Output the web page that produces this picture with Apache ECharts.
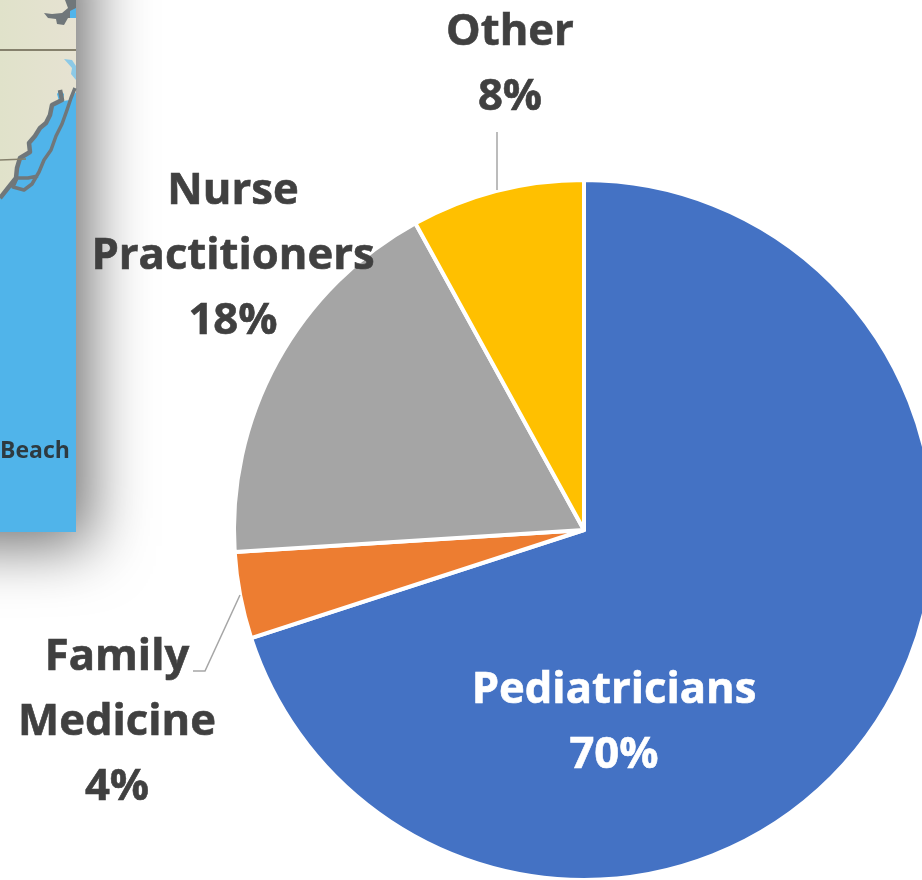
<!DOCTYPE html>
<html>
<head>
<meta charset="utf-8">
<style>
  html, body { margin: 0; padding: 0; background: #fff; overflow: hidden; }
  #pie { width: 922px; height: 880px; }
</style>
</head>
<body>
<div id="pie"></div>
<script src="https://cdn.jsdelivr.net/npm/echarts@6/dist/echarts.min.js"></script>
<script>
const categories = ['Pediatricians', 'Family\nMedicine', 'Nurse\nPractitioners', 'Other'];
const shares = [70, 4, 18, 8];
const colors = ['#4472C4', '#ED7D31', '#A5A5A5', '#FFC000'];

// where each label's block sits, same order as categories
const labelSpots = [
  { x: 614, y: 723 },
  { x: 117, y: 723 },
  { x: 233, y: 257 },
  { x: 510, y: 65 }
];
// leader line elbows, the pie itself only gives us the start point
const leaderLines = [
  null,
  [[240, 595], [205, 671], [193, 671]],
  null,
  [[497, 190], [497, 132]]
];

const chart = echarts.init(document.getElementById('pie'));

const grey = '#70777A';
const water = '#50B4EA';

// the cropped map behind the chart
const mapPart = [
  {
    type: 'rect',
    z: 0,
    shape: { x: -80, y: -80, width: 156, height: 612 },
    style: {
      fill: water,
      shadowBlur: 60,
      shadowColor: 'rgba(0,0,0,0.56)',
      shadowOffsetX: 14,
      shadowOffsetY: 14
    }
  },
  {
    type: 'polygon',
    z: 1,
    shape: {
      points: [[0, 0], [76, 0], [76, 92], [70, 100], [63, 101], [64, 94], [60, 90], [57, 94], [59, 101], [52, 105],
        [50, 115], [46, 123], [40, 128], [35, 136], [29, 143], [30, 152], [20, 158], [17, 168], [16, 178],
        [8, 188], [0, 198]]
    },
    style: {
      fill: { type: 'linear', x: 0, y: 0, x2: 1, y2: 0, colorStops: [
        { offset: 0, color: '#E0E2CA' }, { offset: 1, color: '#E6E2D2' }
      ] }
    }
  },
  {
    // mainland shore
    type: 'polyline',
    z: 2,
    shape: {
      points: [[60, 90], [62, 100], [52, 105], [50, 115], [46, 123], [40, 128], [35, 136], [29, 143], [30, 152],
        [20, 158], [17, 168], [16, 178], [8, 188], [0, 198]]
    },
    style: { stroke: grey, lineWidth: 4.5, fill: null, lineJoin: 'round' }
  },
  {
    // barrier islands
    type: 'polyline',
    z: 2,
    shape: {
      points: [[75, 88], [71, 98], [67, 110], [62, 124], [56, 136], [51, 150], [44, 160], [39, 172], [32, 184],
        [24, 190], [13, 187], [17, 178], [28, 178], [38, 176]]
    },
    style: { stroke: grey, lineWidth: 3.5, fill: null, lineJoin: 'round' }
  },
  {
    type: 'polyline',
    z: 2,
    shape: { points: [[0, 50], [76, 50]] },
    style: { stroke: '#85806C', lineWidth: 2, fill: null }
  },
  {
    type: 'polyline',
    z: 2,
    shape: { points: [[0, 160], [26, 159]] },
    style: { stroke: '#85806C', lineWidth: 1.5, fill: null }
  },
  {
    // bay at the top
    type: 'polygon',
    z: 2,
    shape: {
      points: [[44, 13], [52, 14], [62, 13], [68, 8], [65, 0], [76, 0], [76, 18], [68, 18], [64, 25], [57, 24],
        [56, 19], [48, 18]]
    },
    style: { fill: grey }
  },
  {
    type: 'polygon',
    z: 3,
    shape: { points: [[70, 11], [76, 8], [76, 18], [70, 18]] },
    style: { fill: water }
  },
  {
    // small inlet right of the border line
    type: 'polygon',
    z: 2,
    shape: { points: [[64, 59], [72, 60], [76, 66], [76, 80], [71, 74], [72, 68]] },
    style: { fill: '#8CC9E6' }
  },
  {
    type: 'text',
    z: 3,
    style: {
      x: 0,
      y: 451,
      text: 'Beach',
      fill: '#2E3A40',
      font: 'bold 23px "Open Sans"',
      textVerticalAlign: 'middle',
      shadowBlur: 3,
      shadowColor: 'rgba(255,255,255,0.7)'
    }
  }
];

const leaderPart = leaderLines.filter(Boolean).map(points => ({
  type: 'polyline',
  z: 5,
  shape: { points: points },
  style: { stroke: '#A6A6A6', lineWidth: 1.5, fill: null }
}));

chart.setOption({
  animation: false,
  backgroundColor: '#fff',
  color: colors,
  graphic: mapPart.concat(leaderPart),
  series: [
    {
      type: 'pie',
      z: 4,
      center: [584, 530],
      radius: [0, 350],
      startAngle: 90,
      clockwise: true,
      avoidLabelOverlap: false,
      data: categories.map((name, i) => ({
        name: name,
        value: shares[i],
        label: {
          color: i === 0 ? '#FFFFFF' : '#404040',
          textBorderColor: i === 0 ? '#FFFFFF' : '#404040',
          textBorderWidth: 0.6
        }
      })),
      itemStyle: { borderColor: '#fff', borderWidth: 4 },
      label: {
        show: true,
        position: 'outside',
        formatter: '{b}\n{d}%',
        fontFamily: '"Open Sans"',
        fontWeight: 'bold',
        fontSize: 43.6,
        lineHeight: 65,
        align: 'center'
      },
      labelLine: { show: false },
      labelLayout: params => ({
        x: labelSpots[params.dataIndex].x,
        y: labelSpots[params.dataIndex].y,
        align: 'center',
        verticalAlign: 'middle'
      })
    }
  ]
});
</script>
</body>
</html>
